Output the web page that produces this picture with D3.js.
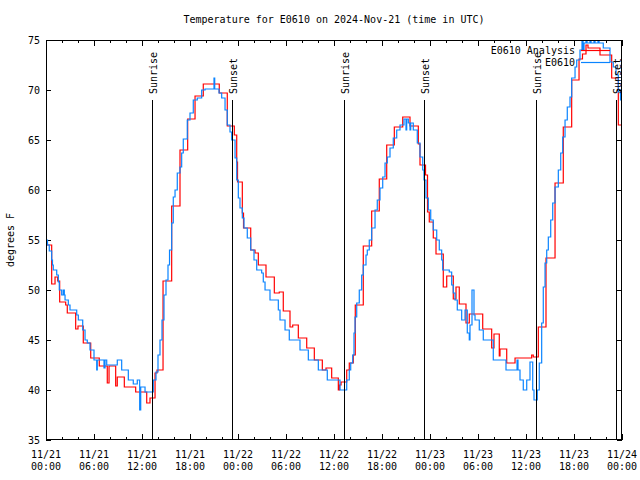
<!DOCTYPE html>
<html><head><meta charset="utf-8">
<script src="https://cdn.jsdelivr.net/npm/d3@7"></script>
<style>body{margin:0;background:#fff}svg{display:block}text{font-family:"DejaVu Sans Mono",monospace;font-size:10px;fill:#000}</style>
</head><body><svg id="c" width="640" height="480"></svg>
<script>
// ---- data ----
const titleText = "Temperature for E0610 on 2024-Nov-21 (time in UTC)";
const yLabel = "degrees F";
const yTicks = [35,40,45,50,55,60,65,70,75];
const xTickHours = [0,6,12,18,24,30,36,42,48,54,60,66,72];
const xTickDates = ["11/21","11/21","11/21","11/21","11/22","11/22","11/22","11/22","11/23","11/23","11/23","11/23","11/24"];
const xTickTimes = ["00:00","06:00","12:00","18:00","00:00","06:00","12:00","18:00","00:00","06:00","12:00","18:00","00:00"];
const sunEventHours = [13.22,23.28,37.23,47.28,61.25,71.27];
const sunEventNames = ["Sunrise","Sunset","Sunrise","Sunset","Sunrise","Sunset"];
const seriesNames = ["E0610 Analysis","E0610"];

// E0610 Analysis (red), hours since 11/21 00:00 UTC
const redHours = [0,0.71,1.13,1.46,1.71,2.46,2.66,3.71,4.0,4.66,5.59,6.66,7.66,7.88,8.71,8.91,9.79,11.21,12.59,13.0,13.63,13.88,14.63,15.71,16.75,17.71,18.63,19.66,21.66,22.66,23.54,23.84,23.94,24.54,24.69,25.59,26.13,26.54,27.5,28.54,29.16,29.66,30.5,30.84,31.54,32.59,33.54,34.54,35.0,35.71,36.54,36.69,36.88,37.59,37.91,38.41,38.66,39.66,40.71,41.66,42.59,43.54,44.59,45.5,46.54,46.75,47.44,47.69,47.91,48.41,48.75,49.66,50.09,50.91,51.25,51.66,52.5,52.91,54.59,55.71,56.0,56.66,56.75,57.59,58.63,60.71,60.91,61.54,62.5,63.63,64.66,65.71,66.63,67.06,67.5,67.75,69.25,70.71,71.54,72];
const redTemps = [54.5,50.6,51.3,50.9,48.8,48.5,47.7,46.1,46.4,44.7,43.2,42.4,40.7,42.4,40.4,41.3,40.3,39.8,38.7,39.2,41.7,42.0,50.9,58.4,64.0,67.1,69.4,70.6,69.7,66.4,65.5,62.8,60.8,57.7,56.2,54.0,53.7,52.5,51.3,49.7,49.8,47.9,46.3,46.5,45.2,44.2,43.0,42.0,42.2,41.2,40.0,40.5,40.8,42.0,42.7,43.5,48.5,54.4,57.9,61.1,64.5,66.3,67.3,66.4,64.6,62.5,61.5,57.8,56.8,55.2,53.6,50.3,51.4,49.1,50.3,48.6,46.7,47.6,46.1,44.2,45.6,43.4,44.1,42.7,43.2,43.5,43.3,46.3,53.2,60.7,66.3,71.0,73.1,73.6,74.5,74.2,73.5,71.2,66.5,66.5];

// E0610 observations (blue)
const blueHours = [0,0.19,0.41,0.71,0.81,0.91,1.34,1.54,1.66,1.96,2.16,2.29,2.38,2.79,3.0,3.84,4.04,4.59,4.88,5.16,5.5,6.0,6.34,6.41,7.25,7.38,7.59,8.91,9.46,10.29,10.91,11.41,11.71,11.84,12.38,13.41,13.75,14.0,14.25,14.5,14.75,15.0,15.25,15.44,15.71,15.91,16.13,16.41,16.75,16.96,17.16,17.66,18.0,18.41,18.91,19.46,19.88,21.0,21.09,21.63,21.96,22.38,22.66,23.0,23.21,23.63,23.84,24.04,24.25,24.54,24.75,25.16,25.59,26.0,26.34,26.96,27.16,27.38,28.0,29.04,29.25,29.88,30.41,31.75,32.79,34.04,35.16,36.75,37.59,37.91,38.09,38.34,38.5,38.63,38.84,39.16,39.46,39.66,40.0,40.16,40.41,40.71,41.13,41.41,41.75,42.09,42.38,42.66,43.0,43.41,43.84,44.25,44.75,45.0,45.09,45.29,45.5,45.59,45.91,46.41,46.75,47.09,47.25,47.5,47.79,48.09,48.41,48.84,49.16,49.46,49.59,50.41,50.71,50.91,51.13,51.41,51.96,52.38,52.66,52.91,53.0,53.25,53.5,53.63,54.16,54.66,55.91,57.5,58.88,59.0,59.25,59.66,60.09,60.5,60.84,61.0,61.41,61.66,61.96,62.16,62.38,62.59,62.79,63.09,63.34,63.63,64.04,64.34,64.59,64.88,65.16,65.5,65.71,66.13,66.34,66.75,67.0,67.13,67.25,67.5,67.63,68.0,68.13,68.5,68.63,69.0,69.13,69.66,70.5,70.91,71.25,71.54,71.81,72];
const blueTemps = [55.0,54.5,53.9,53.0,52.5,52.0,51.5,50.8,50.0,49.5,50.0,49.5,49.0,48.5,48.0,47.5,47.0,46.0,45.0,44.7,44.0,43.0,42.0,43.0,42.2,43.0,42.5,43.0,42.0,41.0,40.6,41.0,38.0,40.3,39.8,41.0,41.8,43.5,45.0,47.0,49.5,51.0,52.5,54.0,56.7,59.3,60.0,61.7,62.3,63.7,65.1,67.0,67.7,69.0,69.2,70.0,70.1,71.2,70.1,69.7,69.2,68.0,66.5,65.8,65.0,63.2,61.0,59.2,58.2,57.2,56.2,55.2,54.0,53.0,52.0,51.7,50.8,50.0,49.0,48.0,47.0,46.0,45.0,44.0,43.0,42.0,41.0,40.0,41.0,42.0,42.7,43.5,45.7,47.3,48.7,50.0,51.5,52.5,53.5,54.0,55.0,56.2,58.0,59.0,60.2,61.3,62.7,63.3,64.2,65.2,66.0,66.5,67.1,66.0,67.1,66.7,66.0,66.7,66.0,64.7,63.3,62.0,61.0,59.2,58.0,57.0,56.0,55.0,54.0,53.0,52.0,51.8,50.5,49.7,49.0,48.0,47.0,48.0,45.7,45.0,46.5,50.0,47.5,47.0,46.0,45.0,43.0,42.0,43.0,42.0,41.0,40.0,41.0,42.8,40.0,39.0,40.0,42.7,46.7,50.3,52.7,54.0,55.3,57.0,58.7,60.3,62.0,63.7,65.3,67.0,68.3,69.3,71.2,72.3,73.0,74.0,75.5,74.0,74.7,75.5,74.7,75.6,74.7,75.5,74.7,75.5,74.7,74.2,72.8,72.3,71.5,69.8,69.0,69.0];

// ---- drawing ----
const svg = d3.select("#c");
const L = 46, R = 622, T = 40, B = 440;
const x = d3.scaleLinear().domain([0,72]).range([L,R]);
const y = d3.scaleLinear().domain([35,75]).range([B,T]);

svg.append("defs").append("clipPath").attr("id","clip")
  .append("rect").attr("x",L).attr("y",T).attr("width",R-L).attr("height",B-T);

svg.append("text").attr("x",(L+R)/2).attr("y",23).attr("text-anchor","middle").text(titleText);

// axes (ticks inward)
const minor = d3.range(0,73,2).filter(h => h % 6 !== 0);
function tickAxis(axisFn, scale, vals, size, transform){
  const g = svg.append("g").attr("transform",transform)
    .call(axisFn(scale).tickValues(vals).tickSize(size).tickFormat(""));
  g.select(".domain").remove();
  g.selectAll("line").attr("stroke","#000").attr("shape-rendering","crispEdges");
  return g;
}
tickAxis(d3.axisBottom, x, xTickHours, -6, `translate(0,${B})`);
tickAxis(d3.axisBottom, x, minor, -3, `translate(0,${B})`);
tickAxis(d3.axisTop, x, xTickHours, -6, `translate(0,${T})`);
tickAxis(d3.axisTop, x, minor, -3, `translate(0,${T})`);
tickAxis(d3.axisLeft, y, yTicks, -5, `translate(${L},0)`);
tickAxis(d3.axisRight, y, yTicks, -5, `translate(${R},0)`);

// y labels
svg.append("g").selectAll("text").data(yTicks).join("text")
  .attr("x",L-6).attr("y",d=>y(d)+4).attr("text-anchor","end").text(d=>d);
svg.append("text").attr("transform",`translate(14,${(T+B)/2}) rotate(-90)`)
  .attr("text-anchor","middle").text(yLabel);

// x labels
const xl = svg.append("g").selectAll("text").data(xTickHours).join("text")
  .attr("text-anchor","middle");
xl.append("tspan").attr("x",d=>x(d)).attr("y",458).text((d,i)=>xTickDates[i]);
xl.append("tspan").attr("x",d=>x(d)).attr("y",470).text((d,i)=>xTickTimes[i]);

// series
const line = d3.line().x(d=>x(d[0])).y(d=>y(d[1])).curve(d3.curveStepAfter);
const plot = svg.append("g").attr("clip-path","url(#clip)");
const redData = redHours.map((h,i)=>[h,redTemps[i]]);
const blueData = blueHours.map((h,i)=>[h,blueTemps[i]]);
plot.append("path").datum(redData).attr("d",line).attr("fill","none").attr("stroke","#ff0000").attr("stroke-width",1.2);
plot.append("path").datum(blueData).attr("d",line).attr("fill","none").attr("stroke","#0a84ff").attr("stroke-width",1.2);

// sunrise / sunset
sunEventHours.forEach((h,i)=>{
  const xx = Math.round(x(h))+0.5;
  svg.append("line").attr("x1",xx).attr("x2",xx).attr("y1",100).attr("y2",B).attr("stroke","#000").attr("stroke-width",1);
  svg.append("text").attr("transform",`translate(${xx+4},94) rotate(-90)`).attr("text-anchor","start").text(sunEventNames[i]);
});

// legend
const legColors = ["#ff0000","#0a84ff"];
seriesNames.forEach((n,i)=>{
  const yy = 50 + i*12;
  svg.append("text").attr("x",575).attr("y",yy+4).attr("text-anchor","end").text(n);
  svg.append("line").attr("x1",581).attr("x2",610).attr("y1",yy+0.5).attr("y2",yy+0.5).attr("stroke",legColors[i]).attr("stroke-width",1.2);
});

// frame
svg.append("rect").attr("x",L+0.5).attr("y",T+0.5).attr("width",R-L-1).attr("height",B-T-1)
  .attr("fill","none").attr("stroke","#000").attr("stroke-width",1);
</script></body></html>
